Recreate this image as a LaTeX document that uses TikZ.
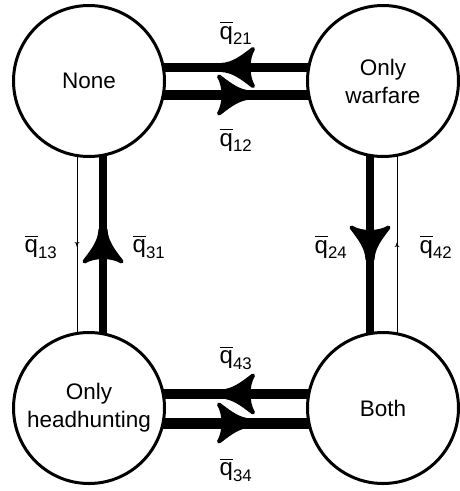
\documentclass[tikz,border=0pt]{standalone}
\usepackage{amsmath}
\usepackage{fontspec}
\setmainfont{Liberation Sans}
\usetikzlibrary{decorations.markings,calc,backgrounds}
\newcommand\qlab[1]{$\overline{\text{q}}_{\text{#1}}$}
\tikzset{
  state/.style={circle, draw, line width=3pt, fill=white, minimum size=151pt, inner sep=0pt,
    align=center, font=\fontsize{22.5}{28}\selectfont},
  rate/.style={font=\fontsize{24}{28}\selectfont, inner sep=0pt},
  thickedge/.style={line width=#1, postaction={decorate, decoration={markings,
    mark=at position 0.5 with {\filldraw[line width=4pt, line join=round]
      (15pt,2.5pt) .. controls (3pt,3pt) and (-6pt,10pt) .. (-17pt,18.5pt)
      .. controls (-11pt,9pt) and (-11pt,-9pt) .. (-17pt,-18.5pt)
      .. controls (-6pt,-10pt) and (3pt,-3pt) .. (15pt,-2.5pt) -- cycle;}}}},
  thinedge/.style={line width=0.8pt, postaction={decorate, decoration={markings,
    mark=at position 0.5 with {\fill
      (2pt,0.4pt) .. controls (0pt,0.5pt) and (-1.5pt,1pt) .. (-2.5pt,2.5pt)
      .. controls (-1.5pt,0.8pt) and (-1.5pt,-0.8pt) .. (-2.5pt,-2.5pt)
      .. controls (-1.5pt,-1pt) and (0pt,-0.5pt) .. (2pt,-0.4pt) -- cycle;}}}},
}
\begin{document}
\begin{tikzpicture}[x=1pt, y=-1pt]
\useasboundingbox (0,0) rectangle (459,491);
\node[state] (n1) at (89,81) {None};
\node[state] (n2) at (383,81) {Only\\warfare};
\node[state] (n3) at (89,408) {Only\\headhunting};
\node[state] (n4) at (383,408) {Both};
\begin{pgfonlayer}{background}
\draw[thickedge=9.5pt] ($(n2.center)+(0,-13.5)$) -- ($(n1.center)+(0,-13.5)$);
\draw[thickedge=10.5pt] ($(n1.center)+(0,14)$) -- ($(n2.center)+(0,14)$);
\draw[thinedge] ($(n1.center)+(-12,0)$) -- ($(n3.center)+(-12,0)$);
\draw[thickedge=8pt] ($(n3.center)+(14,0)$) -- ($(n1.center)+(14,0)$);
\draw[thickedge=8.5pt] ($(n2.center)+(-13,0)$) -- ($(n4.center)+(-13,0)$);
\draw[thinedge] ($(n4.center)+(14,0)$) -- ($(n2.center)+(14,0)$);
\draw[thickedge=10pt] ($(n4.center)+(0,-14)$) -- ($(n3.center)+(0,-14)$);
\draw[thickedge=11pt] ($(n3.center)+(0,15)$) -- ($(n4.center)+(0,15)$);
\end{pgfonlayer}
\node[rate] (l21) at (236,33) {\qlab{21}};
\node[rate] (l12) at (236,140) {\qlab{12}};
\node[rate] (l13) at (41,247) {\qlab{13}};
\node[rate] (l31) at (149,247) {\qlab{31}};
\node[rate] (l24) at (331,247) {\qlab{24}};
\node[rate] (l42) at (436,247) {\qlab{42}};
\node[rate] (l43) at (236,358) {\qlab{43}};
\node[rate] (l34) at (236,470) {\qlab{34}};
\end{tikzpicture}
\end{document}
